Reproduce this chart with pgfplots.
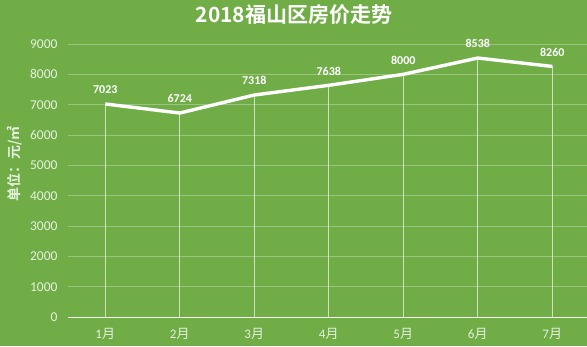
\documentclass[border=0pt]{standalone}
\usepackage{pgfplots}
\pgfplotsset{compat=1.18}
\usepackage{fontspec}
\setmainfont{Carlito}
\newfontfamily\cjk{Noto Sans CJK SC}
\newfontfamily\cjkb{Noto Sans CJK SC Bold}
\definecolor{bg}{RGB}{112,173,71}
\definecolor{tick}{RGB}{230,242,222}
\begin{document}
\begin{tikzpicture}[x=1pt,y=1pt]
\fill[bg] (0,0) rectangle (587,346);
\useasboundingbox (0,0) rectangle (587,346);
\node[text=white,font=\cjkb\fontsize{21}{24}\selectfont] at (294,331) {2018福山区房价走势};
\node[text=tick,rotate=90,font=\cjkb\fontsize{14}{16}\selectfont] at (15,182) {单位：元/㎡};
\begin{axis}[
  at={(68pt,29pt)}, anchor=south west,
  scale only axis, width=519pt, height=273pt,
  xmin=0.5, xmax=7.466, ymin=0, ymax=9000,
  axis line style={draw=none},
  clip=false,
  ytick={0,1000,...,9000},
  xtick={1,...,7},
  xticklabels={1{\cjk 月},2{\cjk 月},3{\cjk 月},4{\cjk 月},5{\cjk 月},6{\cjk 月},7{\cjk 月}},
  ymajorgrids,
  grid style={white,opacity=0.3,line width=0.7pt},
  major tick length=0pt,
  yticklabel style={text=tick,font=\fontsize{13.5}{15}\selectfont,xshift=-7pt},
  xticklabel style={text=tick,font=\fontsize{13}{15}\selectfont,yshift=-8pt},
  /pgf/number format/assume math mode=true,
  /pgf/number format/1000 sep={},
]
\draw[white, line width=1pt, opacity=0.9] (axis cs:0.5,0) -- (axis cs:7.466,0);
\addplot[ycomb, white, line width=0.6pt, opacity=0.65, no marks] coordinates {
 (1,7023) (2,6724) (3,7318) (4,7638) (5,8000) (6,8538) (7,8260)};
\addplot[white, line width=3.4pt, no marks, line join=round,
  nodes near coords, point meta=explicit symbolic,
  every node near coord/.style={text=white,font=\bfseries\fontsize{12}{14}\selectfont,anchor=south,yshift=5pt}]
 coordinates {
 (1,7023)[7023] (2,6724)[6724] (3,7318)[7318] (4,7638)[7638] (5,8000)[8000] (6,8538)[8538] (7,8260)[8260]};
\end{axis}
\end{tikzpicture}
\end{document}
